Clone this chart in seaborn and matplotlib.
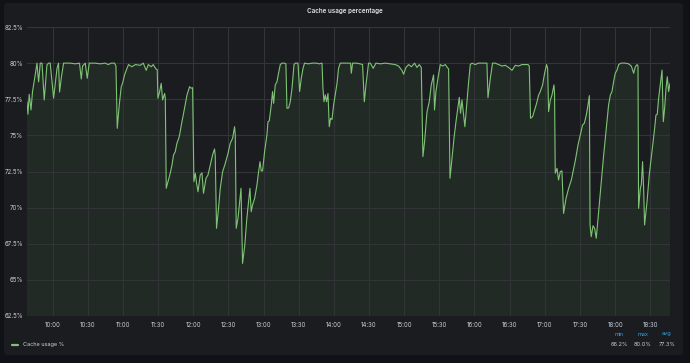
import numpy as np
import pandas as pd
import matplotlib
matplotlib.use("Agg")
import matplotlib.pyplot as plt
import matplotlib.dates as mdates
from matplotlib.patches import FancyBboxPatch
import seaborn as sns

# ---------------- data ----------------
title = "Cache usage percentage"
series_name = "Cache usage %"
# minutes relative to 10:00
minutes = [
    -21.8, -21.0, -19.9, -18.4, -17.1, -14.8, -13.3, -11.9, -10.5, -9.0,
    -7.1, -4.8, -3.4, -2.0, 0.9, 3.8, 5.1, 6.0, 7.4, 9.4,
    10.8, 15.1, 19.4, 23.0, 24.5, 25.6, 27.9, 29.6, 31.3, 36.4,
    40.7, 44.9, 47.5, 50.1, 52.9, 54.1, 55.2, 56.9, 58.6, 59.7,
    61.4, 63.5, 64.8, 67.7, 70.6, 74.8, 77.4, 79.9, 81.7, 84.2,
    85.9, 88.2, 89.3, 89.9, 91.3, 92.7, 93.9, 95.6, 96.2, 97.0,
    98.5, 100.4, 101.9, 103.2, 104.7, 106.1, 108.1, 110.4, 112.6, 114.7,
    116.9, 118.3, 119.5, 120.6, 121.8, 122.9, 124.1, 126.0, 127.5, 128.8,
    130.9, 132.6, 134.6, 136.5, 138.2, 138.8, 139.9, 141.6, 143.1, 145.1,
    147.4, 149.7, 151.6, 153.6, 155.3, 155.9, 156.7, 158.2, 159.6, 160.8,
    162.1, 164.0, 165.7, 167.2, 168.4, 169.5, 170.6, 172.4, 174.4, 175.8,
    177.0, 178.1, 179.2, 180.9, 182.9, 183.8, 184.9, 186.6, 187.7, 188.6,
    190.0, 191.5, 192.8, 194.3, 195.7, 197.9, 199.1, 200.0, 201.4, 202.8,
    204.3, 206.0, 207.1, 209.4, 210.8, 212.2, 213.7, 215.0, 218.2, 221.6,
    225.0, 227.6, 229.9, 230.7, 231.6, 232.7, 233.8, 235.0, 236.1, 237.2,
    238.4, 239.8, 241.2, 242.7, 244.0, 245.5, 249.7, 254.3, 254.9, 256.0,
    259.1, 262.5, 264.5, 266.0, 267.4, 269.6, 271.1, 272.5, 273.6, 275.9,
    279.6, 283.9, 288.1, 292.4, 295.2, 298.1, 299.5, 301.5, 303.8, 306.1,
    308.9, 310.9, 312.9, 314.6, 316.0, 317.4, 319.5, 321.4, 323.1, 325.1,
    325.9, 327.1, 328.8, 330.8, 332.8, 335.1, 336.8, 337.9, 339.1, 340.8,
    342.5, 344.2, 345.9, 347.0, 348.1, 349.3, 350.4, 351.8, 353.6, 355.0,
    356.4, 357.9, 360.7, 363.2, 366.7, 370.6, 371.5, 373.5, 375.4, 377.7,
    380.6, 383.5, 386.3, 389.1, 392.0, 394.8, 397.6, 400.5, 405.6, 406.7,
    407.8, 409.6, 411.3, 413.0, 414.7, 416.1, 418.1, 419.8, 421.5, 422.4,
    423.2, 424.7, 426.1, 427.8, 428.3, 428.9, 430.4, 431.7, 433.2, 434.6,
    436.0, 438.1, 440.3, 442.6, 444.6, 446.0, 448.3, 450.3, 452.2, 453.7,
    455.4, 456.8, 458.0, 458.6, 459.6, 461.1, 462.5, 463.9, 465.9, 468.2,
    470.2, 472.4, 474.4, 475.9, 477.3, 478.7, 480.1, 481.6, 483.0, 485.0,
    488.7, 491.5, 493.8, 495.8, 497.2, 498.7, 499.5, 500.0, 501.5, 502.3,
    503.4, 504.3, 505.1, 507.2, 509.1, 511.4, 513.7, 514.8, 515.9, 517.1,
    518.8, 520.0, 521.1, 522.2, 523.4, 524.5, 525.6, 526.8,
]
values = [
    77.33, 76.46, 77.84, 76.76, 78.03, 79.18, 80.0, 78.7, 80.0, 80.0,
    77.45, 79.87, 80.0, 80.0, 77.57, 79.64, 80.0, 78.0, 78.95, 80.0,
    80.0, 80.0, 79.95, 80.0, 78.9, 79.8, 80.0, 78.95, 80.0, 80.0,
    79.95, 80.0, 79.9, 80.0, 80.0, 79.8, 75.49, 77.1, 78.37, 78.6,
    79.18, 79.64, 79.9, 79.75, 79.9, 79.85, 80.0, 79.5, 79.9, 79.75,
    79.9, 79.6, 79.55, 77.57, 78.0, 78.6, 77.45, 77.9, 77.57, 71.34,
    71.8, 72.38, 72.95, 73.64, 73.87, 74.45, 74.91, 75.95, 76.87, 77.79,
    78.37, 78.26, 78.3, 71.8, 72.38, 71.68, 71.1, 72.26, 72.4, 70.99,
    72.03, 72.26, 72.95, 73.64, 74.06, 73.6, 68.57, 69.95, 71.34, 72.49,
    73.07, 73.76, 74.45, 74.8, 75.6, 75.03, 68.57, 69.26, 70.41, 71.34,
    66.14, 67.4, 69.2, 70.41, 71.34, 69.72, 70.18, 70.64, 71.57, 72.49,
    73.18, 72.53, 72.55, 73.87, 75.03, 75.95, 76.0, 77.1, 78.03, 77.22,
    78.49, 78.72, 79.3, 79.9, 80.0, 80.0, 79.95, 76.87, 76.9, 77.33,
    78.26, 79.9, 80.0, 80.0, 78.03, 78.95, 79.64, 80.0, 79.95, 80.0,
    80.0, 79.95, 80.0, 78.26, 77.33, 77.8, 77.33, 77.9, 75.6, 76.18,
    76.1, 77.1, 77.84, 78.6, 79.64, 80.0, 80.0, 80.0, 79.3, 80.0,
    80.0, 79.95, 79.9, 77.33, 78.49, 80.0, 80.0, 79.8, 79.64, 80.0,
    79.95, 80.0, 79.95, 79.9, 79.8, 79.5, 79.23, 79.7, 79.9, 79.75,
    80.0, 79.7, 79.9, 79.7, 73.53, 74.56, 76.64, 77.33, 78.49, 79.18,
    76.76, 78.03, 78.95, 79.9, 79.8, 79.9, 79.7, 79.6, 72.03, 73.41,
    74.8, 75.95, 76.99, 77.63, 76.53, 77.45, 76.64, 75.6, 77.33, 78.72,
    79.9, 80.0, 79.9, 80.0, 80.0, 80.0, 77.61, 78.95, 80.0, 80.0,
    79.9, 79.8, 79.85, 79.7, 79.5, 79.85, 79.8, 79.9, 79.9, 79.8,
    76.18, 76.3, 76.76, 77.22, 77.79, 78.03, 78.49, 79.3, 79.9, 79.64,
    76.64, 77.45, 77.79, 78.49, 77.9, 72.38, 72.72, 71.91, 72.49, 72.55,
    69.6, 70.64, 71.34, 71.91, 72.72, 73.25, 74.33, 75.03, 75.72, 75.84,
    76.41, 77.1, 77.75, 68.8, 67.99, 68.75, 68.57, 67.88, 69.72, 71.8,
    73.64, 75.49, 77.1, 77.79, 78.03, 78.72, 79.3, 79.52, 79.9, 80.0,
    80.0, 79.95, 79.8, 79.3, 79.75, 79.9, 79.8, 69.95, 71.34, 71.6,
    73.18, 71.34, 68.8, 70.41, 72.26, 73.87, 75.49, 76.41, 76.45, 77.57,
    78.72, 79.52, 75.95, 76.87, 78.26, 79.06, 78.03, 78.6,
]
y_ticks = [62.5, 65, 67.5, 70, 72.5, 75, 77.5, 80, 82.5]
y_tick_labels = ["62.5%", "65%", "67.5%", "70%", "72.5%", "75%", "77.5%", "80%", "82.5%"]
stat_names = ["min", "max", "avg"]
stat_values = ["66.2%", "80.0%", "77.3%"]

# ---------------- styling ----------------
OUTER = "#111217"
PANEL = "#1b1c20"
LINE = "#7ec474"
GRID = "#323438"
TXT = "#c7d0d9"
BLUE = "#33a2e5"

sns.set_theme(style="dark")
plt.rcParams["font.family"] = ["Inter", "DejaVu Sans"]

base = pd.Timestamp("2021-01-01 10:00")
df = pd.DataFrame({
    "time": base + pd.to_timedelta(minutes, unit="m"),
    "value": values,
})

fig = plt.figure(figsize=(6.9, 3.63), dpi=100, facecolor=OUTER)
W, H = 690, 363

# panel background drawn in its own axes beneath everything
bg = fig.add_axes([0, 0, 1, 1], zorder=-5)
bg.set_xlim(0, W)
bg.set_ylim(H, 0)
bg.axis("off")
bg.add_patch(FancyBboxPatch((4, 3), 679, 352,
                            boxstyle="round,pad=0,rounding_size=3",
                            facecolor=PANEL, edgecolor="none"))

ax = fig.add_axes([27 / W, 1 - 316 / H, (670 - 27) / W, (316 - 27) / H], zorder=2)
ax.set_facecolor(PANEL)

ax.fill_between(df["time"], 0, df["value"], color="#73bf69", alpha=0.09,
                linewidth=0, zorder=1)
sns.lineplot(data=df, x="time", y="value", ax=ax, color=LINE,
             linewidth=0.8, zorder=3, legend=False)

ax.set_xlim(df["time"].iloc[0], df["time"].iloc[-1])
ax.set_ylim(y_ticks[0], y_ticks[-1])
ax.set_yticks(y_ticks)
ax.set_yticklabels(y_tick_labels)
ax.xaxis.set_major_locator(mdates.MinuteLocator(byminute=[0, 30]))
ax.xaxis.set_major_formatter(mdates.DateFormatter("%H:%M"))
ax.set_xlabel("")
ax.set_ylabel("")
ax.grid(True, color=GRID, linewidth=0.8, zorder=2)
ax.set_axisbelow(False)
for s in ax.spines.values():
    s.set_visible(False)
ax.tick_params(axis="both", length=0, colors=TXT, labelsize=4.4)
ax.tick_params(axis="y", pad=3)
ax.tick_params(axis="x", pad=4)

fig.text(345 / W, 1 - 11 / H, title, color="#e0e3e8", fontsize=4.5,
         fontweight="semibold", ha="center", va="center")

# legend
fig.add_artist(plt.Line2D([12 / W, 18 / W], [1 - 344.7 / H] * 2,
                          color=LINE, linewidth=1.6,
                          transform=fig.transFigure))
fig.text(23 / W, 1 - 344.7 / H, series_name, color=TXT, fontsize=4.0,
         ha="left", va="center")
for i, (n, v) in enumerate(zip(stat_names, stat_values)):
    cx = [619.5, 643.0, 667.0][i]
    fig.text(cx / W, 1 - 334 / H, n, color=BLUE, fontsize=4.0,
             ha="center", va="center")
    fig.text(cx / W, 1 - 344.5 / H, v, color=TXT, fontsize=4.0,
             ha="center", va="center")

fig.savefig("out.png", dpi=100, facecolor=OUTER)
